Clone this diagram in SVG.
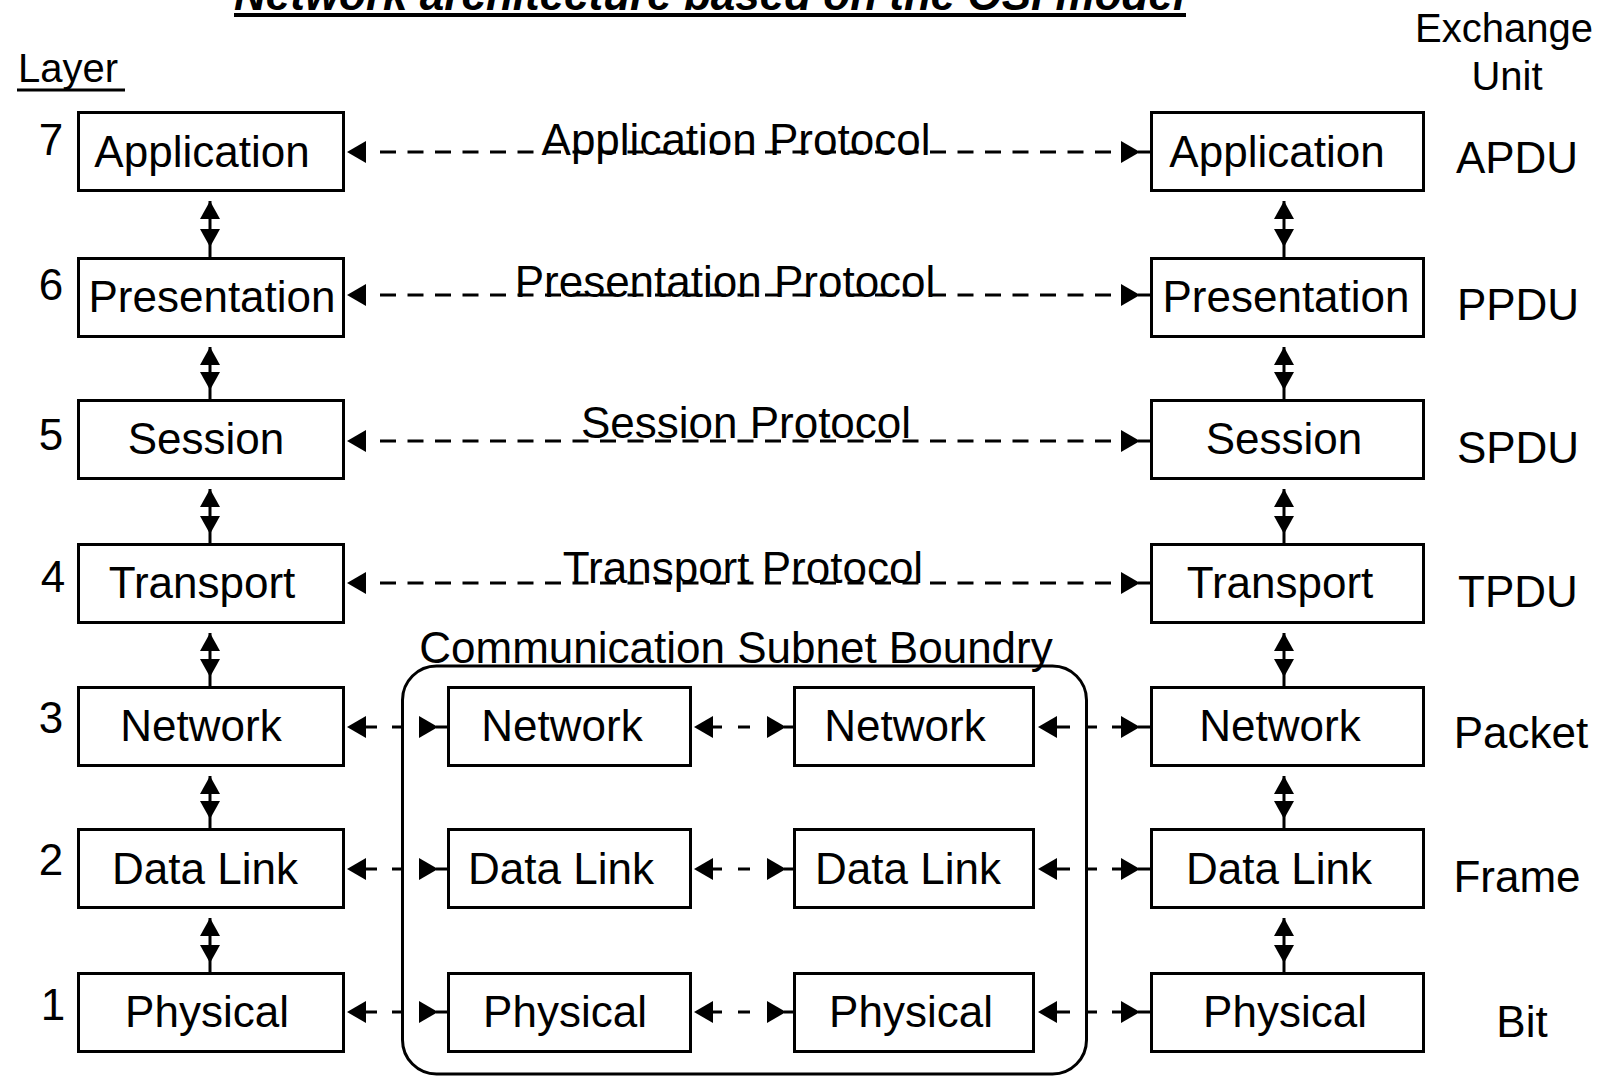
<svg xmlns="http://www.w3.org/2000/svg" width="1607" height="1076" viewBox="0 0 1607 1076">
<style>
.box{fill:#fff;stroke:#000;stroke-width:3}
.t{font-family:"Liberation Sans",Arial,sans-serif;font-size:44px;fill:#000}
.s{font-size:40px}
.c{text-anchor:middle}
.ttl{font-weight:bold;font-style:italic}
.ln{stroke:#000;stroke-width:3;fill:none}
.dash{stroke-dasharray:16 11.5}
.bnd{fill:none;stroke:#000;stroke-width:3}
</style>
<defs>
<path id="tl" d="M0,0 L19,-11 L19,11 Z"/>
<path id="tr" d="M0,0 L-19,-11 L-19,11 Z"/>
<path id="tu" d="M0,0 L-10,18 L10,18 Z"/>
<path id="td" d="M0,0 L-10,-18 L10,-18 Z"/>
</defs>
<rect width="1607" height="1076" fill="#fff"/>

<g id="title">
<text class="t ttl" x="234" y="10">Network architecture based on the OSI model</text>
<rect x="234" y="13" width="952" height="4" fill="#000"/>
</g>
<g id="layer-heading">
<text class="t s" x="18" y="82">Layer</text>
<line class="ln" x1="17" y1="90" x2="125" y2="90"/>
</g>
<g id="exchange-heading">
<text class="t s c" x="1504" y="42">Exchange</text>
<text class="t s c" x="1507" y="90">Unit</text>
</g>

<g id="boundary">
<rect class="bnd" x="402.5" y="666" width="684" height="408" rx="34" ry="34"/>
<text class="t c" x="736" y="663">Communication Subnet Boundry</text>
</g>

<g id="connectors">
<g id="proto-app">
<use href="#tl" x="347" y="152"/>
<line class="ln dash" x1="380" y1="152" x2="1112" y2="152"/>
<use href="#tr" x="1140" y="152"/>
<line class="ln" x1="1138" y1="152" x2="1150" y2="152"/>
</g>
<g id="proto-pres">
<use href="#tl" x="347" y="295"/>
<line class="ln dash" x1="380" y1="295" x2="1112" y2="295"/>
<use href="#tr" x="1140" y="295"/>
<line class="ln" x1="1138" y1="295" x2="1150" y2="295"/>
</g>
<g id="proto-sess">
<use href="#tl" x="347" y="441"/>
<line class="ln dash" x1="380" y1="441" x2="1112" y2="441"/>
<use href="#tr" x="1140" y="441"/>
<line class="ln" x1="1138" y1="441" x2="1150" y2="441"/>
</g>
<g id="proto-trans">
<use href="#tl" x="347" y="583"/>
<line class="ln dash" x1="380" y1="583" x2="1112" y2="583"/>
<use href="#tr" x="1140" y="583"/>
<line class="ln" x1="1138" y1="583" x2="1150" y2="583"/>
</g>

<g id="link-net">
<path class="ln" d="M363,727 H377 M392,727 H402 M436,727 H447 M710,727 H722 M738,727 H750 M784,727 H793 M1054,727 H1070 M1087,727 H1097 M1112,727 H1124 M1138,727 H1150"/>
<use href="#tl" x="347" y="727"/><use href="#tr" x="438" y="727"/>
<use href="#tl" x="694" y="727"/><use href="#tr" x="786" y="727"/>
<use href="#tl" x="1038" y="727"/><use href="#tr" x="1140" y="727"/>
</g>
<g id="link-dl">
<path class="ln" d="M363,869 H377 M392,869 H402 M436,869 H447 M710,869 H722 M738,869 H750 M784,869 H793 M1054,869 H1070 M1087,869 H1097 M1112,869 H1124 M1138,869 H1150"/>
<use href="#tl" x="347" y="869"/><use href="#tr" x="438" y="869"/>
<use href="#tl" x="694" y="869"/><use href="#tr" x="786" y="869"/>
<use href="#tl" x="1038" y="869"/><use href="#tr" x="1140" y="869"/>
</g>
<g id="link-phy">
<path class="ln" d="M363,1012 H377 M392,1012 H402 M436,1012 H447 M710,1012 H722 M738,1012 H750 M784,1012 H793 M1054,1012 H1070 M1087,1012 H1097 M1112,1012 H1124 M1138,1012 H1150"/>
<use href="#tl" x="347" y="1012"/><use href="#tr" x="438" y="1012"/>
<use href="#tl" x="694" y="1012"/><use href="#tr" x="786" y="1012"/>
<use href="#tl" x="1038" y="1012"/><use href="#tr" x="1140" y="1012"/>
</g>

<g id="vl">
<line class="ln" x1="210" y1="201" x2="210" y2="257"/><use href="#tu" x="210" y="201"/><use href="#td" x="210" y="247"/>
<line class="ln" x1="210" y1="347" x2="210" y2="399"/><use href="#tu" x="210" y="347"/><use href="#td" x="210" y="390"/>
<line class="ln" x1="210" y1="489" x2="210" y2="543"/><use href="#tu" x="210" y="489"/><use href="#td" x="210" y="534"/>
<line class="ln" x1="210" y1="633" x2="210" y2="686"/><use href="#tu" x="210" y="633"/><use href="#td" x="210" y="677"/>
<line class="ln" x1="210" y1="776" x2="210" y2="828"/><use href="#tu" x="210" y="776"/><use href="#td" x="210" y="819"/>
<line class="ln" x1="210" y1="918" x2="210" y2="972"/><use href="#tu" x="210" y="918"/><use href="#td" x="210" y="963"/>
</g>
<g id="vr">
<line class="ln" x1="1284" y1="201" x2="1284" y2="257"/><use href="#tu" x="1284" y="201"/><use href="#td" x="1284" y="247"/>
<line class="ln" x1="1284" y1="347" x2="1284" y2="399"/><use href="#tu" x="1284" y="347"/><use href="#td" x="1284" y="390"/>
<line class="ln" x1="1284" y1="489" x2="1284" y2="543"/><use href="#tu" x="1284" y="489"/><use href="#td" x="1284" y="534"/>
<line class="ln" x1="1284" y1="633" x2="1284" y2="686"/><use href="#tu" x="1284" y="633"/><use href="#td" x="1284" y="677"/>
<line class="ln" x1="1284" y1="776" x2="1284" y2="828"/><use href="#tu" x="1284" y="776"/><use href="#td" x="1284" y="819"/>
<line class="ln" x1="1284" y1="918" x2="1284" y2="972"/><use href="#tu" x="1284" y="918"/><use href="#td" x="1284" y="963"/>
</g>
</g>

<g id="protocol-labels">
<text class="t c" x="736" y="155">Application Protocol</text>
<text class="t c" x="725" y="297">Presentation Protocol</text>
<text class="t c" x="746" y="438">Session Protocol</text>
<text class="t c" x="743" y="583">Transport Protocol</text>
</g>

<g id="layer-numbers">
<text class="t c" x="51" y="155">7</text>
<text class="t c" x="51" y="300">6</text>
<text class="t c" x="51" y="450">5</text>
<text class="t c" x="53" y="592">4</text>
<text class="t c" x="51" y="733">3</text>
<text class="t c" x="51" y="875">2</text>
<text class="t c" x="53" y="1020">1</text>
</g>

<g id="L7"><rect class="box" x="78.5" y="112.5" width="265" height="78"/><text class="t c" x="202" y="167">Application</text></g>
<g id="L6"><rect class="box" x="78.5" y="258.5" width="265" height="78"/><text class="t c" x="212" y="312">Presentation</text></g>
<g id="L5"><rect class="box" x="78.5" y="400.5" width="265" height="78"/><text class="t c" x="206" y="454">Session</text></g>
<g id="L4"><rect class="box" x="78.5" y="544.5" width="265" height="78"/><text class="t c" x="202" y="598">Transport</text></g>
<g id="L3"><rect class="box" x="78.5" y="687.5" width="265" height="78"/><text class="t c" x="201" y="741">Network</text></g>
<g id="L2"><rect class="box" x="78.5" y="829.5" width="265" height="78"/><text class="t c" x="205" y="884">Data Link</text></g>
<g id="L1"><rect class="box" x="78.5" y="973.5" width="265" height="78"/><text class="t c" x="207" y="1027">Physical</text></g>

<g id="A3"><rect class="box" x="448.5" y="687.5" width="242" height="78"/><text class="t c" x="562" y="741">Network</text></g>
<g id="A2"><rect class="box" x="448.5" y="829.5" width="242" height="78"/><text class="t c" x="561" y="884">Data Link</text></g>
<g id="A1"><rect class="box" x="448.5" y="973.5" width="242" height="78"/><text class="t c" x="565" y="1027">Physical</text></g>

<g id="B3"><rect class="box" x="794.5" y="687.5" width="239" height="78"/><text class="t c" x="905" y="741">Network</text></g>
<g id="B2"><rect class="box" x="794.5" y="829.5" width="239" height="78"/><text class="t c" x="908" y="884">Data Link</text></g>
<g id="B1"><rect class="box" x="794.5" y="973.5" width="239" height="78"/><text class="t c" x="911" y="1027">Physical</text></g>

<g id="R7"><rect class="box" x="1151.5" y="112.5" width="272" height="78"/><text class="t c" x="1277" y="167">Application</text></g>
<g id="R6"><rect class="box" x="1151.5" y="258.5" width="272" height="78"/><text class="t c" x="1286" y="312">Presentation</text></g>
<g id="R5"><rect class="box" x="1151.5" y="400.5" width="272" height="78"/><text class="t c" x="1284" y="454">Session</text></g>
<g id="R4"><rect class="box" x="1151.5" y="544.5" width="272" height="78"/><text class="t c" x="1280" y="598">Transport</text></g>
<g id="R3"><rect class="box" x="1151.5" y="687.5" width="272" height="78"/><text class="t c" x="1280" y="741">Network</text></g>
<g id="R2"><rect class="box" x="1151.5" y="829.5" width="272" height="78"/><text class="t c" x="1279" y="884">Data Link</text></g>
<g id="R1"><rect class="box" x="1151.5" y="973.5" width="272" height="78"/><text class="t c" x="1285" y="1027">Physical</text></g>

<g id="exchange-units">
<text class="t c" x="1517" y="173">APDU</text>
<text class="t c" x="1518" y="320">PPDU</text>
<text class="t c" x="1518" y="463">SPDU</text>
<text class="t c" x="1518" y="607">TPDU</text>
<text class="t c" x="1521" y="748">Packet</text>
<text class="t c" x="1517" y="892">Frame</text>
<text class="t c" x="1522" y="1037">Bit</text>
</g>
</svg>
